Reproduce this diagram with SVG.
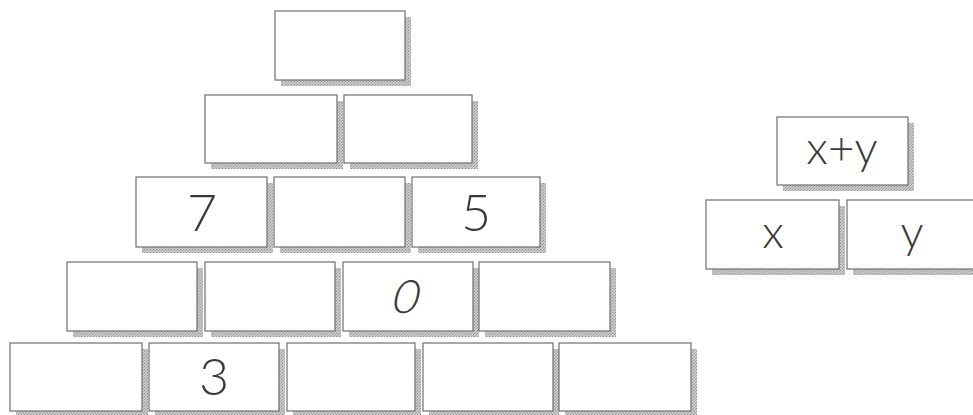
<svg xmlns="http://www.w3.org/2000/svg" width="973" height="415" viewBox="0 0 973 415">
<defs>
<pattern id="stip" width="3" height="3" patternUnits="userSpaceOnUse">
<rect width="3" height="3" fill="#cccccc"/>
<rect width="1" height="1" fill="#8e8e8e"/>
<rect x="2" y="1" width="1" height="1" fill="#9e9e9e"/>
<rect x="1" y="2" width="1" height="1" fill="#aaaaaa"/>
</pattern>
</defs>
<style>
.sh{fill:url(#stip);}
.bx{fill:#ffffff;stroke:#6e6e6e;stroke-width:1.2;}
.t{font-family:Lato,"Open Sans","Liberation Sans",sans-serif;font-weight:300;fill:#3a3a3a;text-anchor:middle;}
.n{font-size:52px;}
.v{font-size:46px;}
</style>
<rect width="973" height="415" fill="#ffffff"/>
<g id="connectors"></g>
<!-- Row 1 -->
<g id="r1c1"><rect class="sh" x="281" y="17" width="130" height="69"/><rect class="bx" x="275" y="11" width="130" height="69"/></g>
<!-- Row 2 -->
<g id="r2c1"><rect class="sh" x="211" y="101" width="132" height="68"/><rect class="bx" x="205" y="95" width="132" height="68"/></g>
<g id="r2c2"><rect class="sh" x="350" y="101" width="128" height="68"/><rect class="bx" x="344" y="95" width="128" height="68"/></g>
<!-- Row 3 -->
<g id="r3c1"><rect class="sh" x="142" y="183" width="131" height="70"/><rect class="bx" x="136" y="177" width="131" height="70"/><text class="t n" x="202" y="231">7</text></g>
<g id="r3c2"><rect class="sh" x="280" y="183" width="131" height="70"/><rect class="bx" x="274" y="177" width="131" height="70"/></g>
<g id="r3c3"><rect class="sh" x="418" y="183" width="128" height="70"/><rect class="bx" x="412" y="177" width="128" height="70"/><text class="t n" x="476" y="231">5</text></g>
<!-- Row 4 -->
<g id="r4c1"><rect class="sh" x="73" y="268" width="130" height="69"/><rect class="bx" x="67" y="262" width="130" height="69"/></g>
<g id="r4c2"><rect class="sh" x="211" y="268" width="130" height="69"/><rect class="bx" x="205" y="262" width="130" height="69"/></g>
<g id="r4c3"><rect class="sh" x="349" y="268" width="130" height="69"/><rect class="bx" x="343" y="262" width="130" height="69"/><text class="t" x="0" y="0" font-size="46" transform="translate(403 313) skewX(-14)">0</text></g>
<g id="r4c4"><rect class="sh" x="485" y="268" width="131" height="69"/><rect class="bx" x="479" y="262" width="131" height="69"/></g>
<!-- Row 5 -->
<g id="r5c1"><rect class="sh" x="16" y="349" width="132" height="68"/><rect class="bx" x="10" y="343" width="132" height="68"/></g>
<g id="r5c2"><rect class="sh" x="155" y="349" width="130" height="68"/><rect class="bx" x="149" y="343" width="130" height="68"/><text class="t n" x="214" y="395">3</text></g>
<g id="r5c3"><rect class="sh" x="293" y="349" width="128" height="68"/><rect class="bx" x="287" y="343" width="128" height="68"/></g>
<g id="r5c4"><rect class="sh" x="429" y="349" width="130" height="68"/><rect class="bx" x="423" y="343" width="130" height="68"/></g>
<g id="r5c5"><rect class="sh" x="565" y="349" width="132" height="68"/><rect class="bx" x="559" y="343" width="132" height="68"/></g>
<!-- Legend -->
<g id="sum"><rect class="sh" x="783" y="123" width="131" height="68"/><rect class="bx" x="777" y="117" width="131" height="68"/><text class="t v" x="842" y="164">x+y</text></g>
<g id="x"><rect class="sh" x="712" y="206" width="133" height="69"/><rect class="bx" x="706" y="200" width="133" height="69"/><text class="t v" x="773" y="248">x</text></g>
<g id="y"><rect class="sh" x="853" y="206" width="130" height="69"/><rect class="bx" x="847" y="200" width="130" height="69"/><text class="t v" x="912" y="248">y</text></g>
</svg>
